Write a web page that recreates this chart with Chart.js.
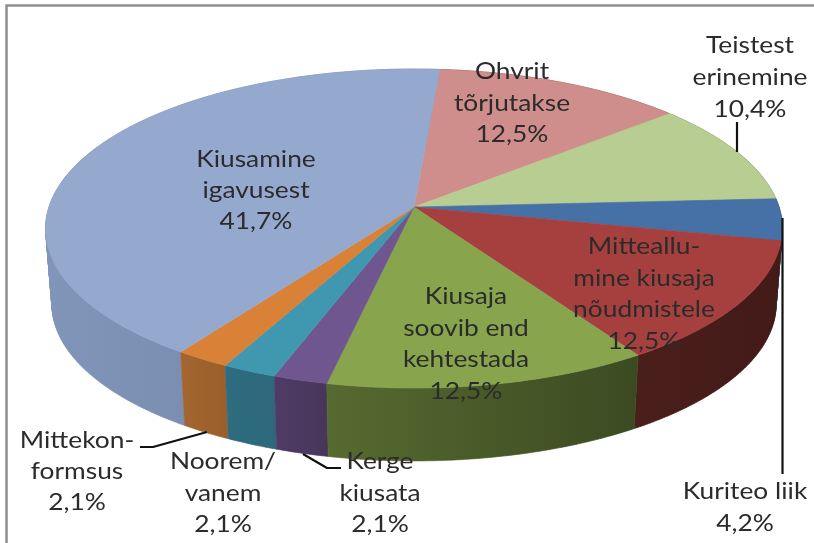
<!DOCTYPE html>
<html><head><meta charset="utf-8">
<style>html,body{margin:0;padding:0;background:#fff}canvas{display:block;filter:blur(0.45px)}</style>
<script src="https://cdn.jsdelivr.net/npm/chart.js@4"></script></head>
<body><canvas id="c" width="814" height="543"></canvas>
<script>
const categories=["Ohvrit tõrjutakse","Teistest erinemine","Kuriteo liik","Mitteallumine kiusaja nõudmistele","Kiusaja soovib end kehtestada","Kerge kiusata","Noorem/vanem","Mittekonformsus","Kiusamine igavusest"];
const values=[12.5,10.4,4.2,12.5,12.5,2.1,2.1,2.1,41.7];
const topColors=["#cf8e8c","#b7cd92","#4571a6","#a6403e","#88a44d","#70568f","#3f98b0","#da8138","#95a9cf"];
const sideLeft=["#7a4a48","#6e7d57","#2a4466","#4a1e1b","#566a30","#4f3b66","#2f6c80","#a3662f","#8195b9"];
const sideRight=["#7a4a48","#6e7d57","#2a4466","#431a18","#3c4a22","#483659","#2d687b","#9a5f2b","#6f82a4"];
const labelLines=[["Ohvrit","tõrjutakse"],["Teistest","erinemine"],["Kuriteo liik"],["Mitteallu-","mine kiusaja","nõudmistele"],["Kiusaja","soovib end","kehtestada"],["Kerge","kiusata"],["Noorem/","vanem"],["Mittekon-","formsus"],["Kiusamine","igavusest"]];
const labelX=[512,750,745,644,466,380,223,77,256];
const labelY=[72,46,492,247,297,462,462,441,160];
const lineGap=[31.5,32,32,31.5,31.5,31.5,31.5,31,31];
const leaders=[[[737,122],[737,152]],[[782.5,218],[782.5,474]],[[140,447],[153,447],[207,432]],[[303,454],[327,468],[341,468]]];
const view={cx:414,cy:207,a:365,b:156.6,k:0.135,depthY:76,shrink:0.983,textStretch:1.17};
const fmt=v=>v.toFixed(1).replace('.',',')+'%';
function rim(t,low){
  const u=Math.cos(t),v=Math.sin(t),w=1-view.k*v,s=low?view.shrink:1;
  return [view.cx+s*view.a*u/w,view.cy+(low?view.depthY:0)+s*view.b*v/w];
}
function samples(a,b){const n=Math.max(2,Math.ceil((b-a)/0.01)),r=[];for(let i=0;i<=n;i++)r.push(a+(b-a)*i/n);return r;}
const pie3d={id:'pie3d',
  beforeDraw(ch){const g=ch.ctx;g.save();g.fillStyle='#fff';g.fillRect(0,0,814,543);
    g.strokeStyle='#8e8e8e';g.lineWidth=2.5;g.beginPath();g.moveTo(6.5,543);g.lineTo(6.5,5.5);g.lineTo(814,5.5);g.stroke();g.restore();},
  beforeDatasetsDraw(ch){
    const g=ch.ctx,arcs=ch.getDatasetMeta(0).data;
    const order=arcs.map((a,i)=>i).sort((p,q)=>Math.sin((arcs[p].startAngle+arcs[p].endAngle)/2)-Math.sin((arcs[q].startAngle+arcs[q].endAngle)/2));
    g.save();
    order.forEach(i=>{const A=arcs[i],ts=samples(A.startAngle,A.endAngle);
      const pts=ts.map(t=>rim(t,false)),low=ts.map(t=>rim(t,true));
      const xs=pts.map(p=>p[0]);
      const gr=g.createLinearGradient(Math.min(...xs),0,Math.max(...xs)+1,0);
      gr.addColorStop(0,sideLeft[i]);gr.addColorStop(1,sideRight[i]);
      g.fillStyle=gr;g.strokeStyle=gr;g.lineWidth=0.6;g.beginPath();
      for(let j=0;j<ts.length-1;j++){g.moveTo(pts[j][0],pts[j][1]);g.lineTo(pts[j+1][0],pts[j+1][1]);g.lineTo(low[j+1][0],low[j+1][1]);g.lineTo(low[j][0],low[j][1]);g.closePath();}
      g.fill();g.stroke();
    });
    arcs.forEach((A,i)=>{const c=A.options.backgroundColor;
      g.fillStyle=c;g.strokeStyle=c;g.lineWidth=0.6;g.beginPath();g.moveTo(view.cx,view.cy);
      samples(A.startAngle,A.endAngle).forEach(t=>{const p=rim(t,false);g.lineTo(p[0],p[1]);});
      g.closePath();g.fill();g.stroke();
    });
    g.restore();
    return false;
  },
  afterDraw(ch){
    const g=ch.ctx;g.save();
    g.strokeStyle='#111';g.lineWidth=2.2;g.lineJoin='round';
    leaders.forEach(l=>{g.beginPath();l.forEach((p,j)=>j?g.lineTo(p[0],p[1]):g.moveTo(p[0],p[1]));g.stroke();});
    g.fillStyle='#2b2b2b';g.font='22.5px Lato, "Open Sans", sans-serif';g.textAlign='center';g.textBaseline='middle';
    labelLines.forEach((lines,i)=>{const all=lines.concat(fmt(values[i]));
      all.forEach((s,j)=>{g.save();g.translate(labelX[i],labelY[i]+j*lineGap[i]);g.scale(view.textStretch,1);g.fillText(s,0,0);g.restore();});});
    g.restore();
  }};
new Chart(document.getElementById('c'),{type:'pie',
  data:{labels:categories,datasets:[{data:values,backgroundColor:topColors,borderWidth:0}]},
  options:{responsive:false,animation:false,rotation:4.6,
    plugins:{legend:{display:false},tooltip:{enabled:false}}},
  plugins:[pie3d]});
</script></body></html>
